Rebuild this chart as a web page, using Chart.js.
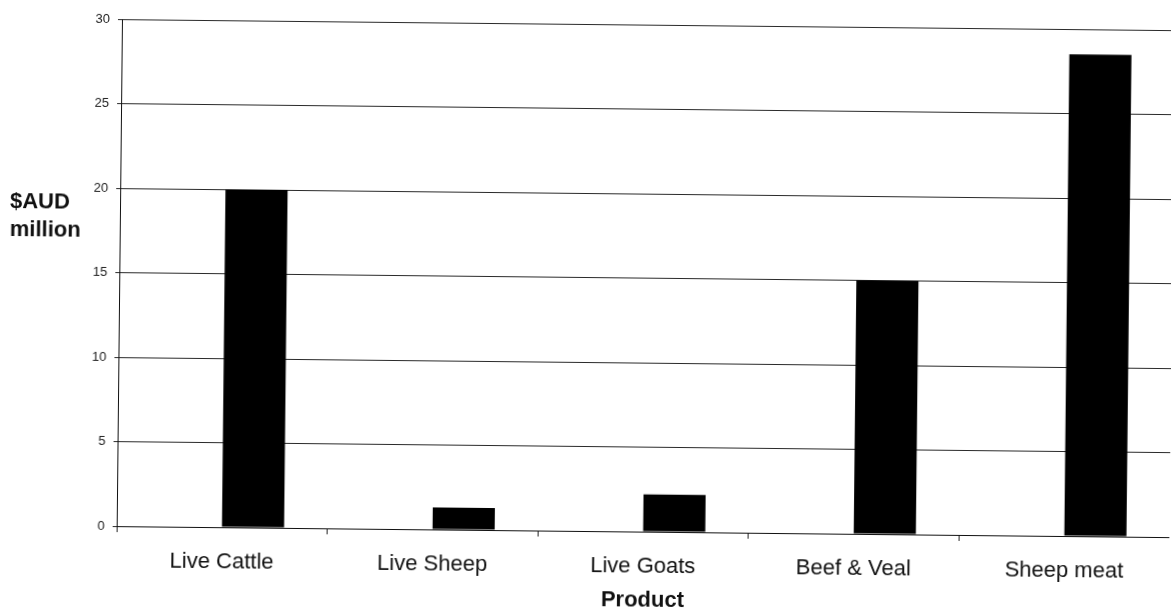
<!DOCTYPE html>
<html>
<head>
<meta charset="utf-8">
<script src="https://cdn.jsdelivr.net/npm/chart.js@4/dist/chart.umd.min.js"></script>
<style>
  html, body { margin: 0; padding: 0; background: #fff; overflow: hidden; }
  #wrap {
    position: relative;
    width: 1172px;
    height: 613px;
    transform: rotate(0.6deg);
    transform-origin: 585px 306px;
  }
</style>
</head>
<body>
<div id="wrap"><canvas id="chart"></canvas></div>
<script>
// Export value by product, $AUD million
const categories = ['Live Cattle', 'Live Sheep', 'Live Goats', 'Beef & Veal', 'Sheep meat'];
const exportValues = [20, 1.3, 2.2, 15, 28.5];
// empty first series slot, so each bar sits in the right half of its category
const emptySeries = [null, null, null, null, null];
const yTicks = [0, 5, 10, 15, 20, 25, 30];
const yTitleLines = ['$AUD', 'million'];
const xTitle = 'Product';

const FONT = '"Liberation Sans", Arial, sans-serif';

// Horizontal, two-line y-axis title drawn at the left edge
const sideTitle = {
  id: 'sideTitle',
  afterDraw(chart) {
    const ctx = chart.ctx;
    ctx.save();
    ctx.font = 'bold 22px ' + FONT;
    ctx.fillStyle = '#111';
    ctx.textAlign = 'left';
    ctx.textBaseline = 'middle';
    ctx.fillText(yTitleLines[0], 9, 208);
    ctx.fillText(yTitleLines[1], 9, 236);
    ctx.restore();
  }
};

new Chart(document.getElementById('chart'), {
  type: 'bar',
  data: {
    labels: categories,
    datasets: [
      { label: 'blank', data: emptySeries, backgroundColor: '#000' },
      { label: 'Value', data: exportValues, backgroundColor: '#000', borderWidth: 0 }
    ]
  },
  options: {
    responsive: true,
    maintainAspectRatio: false,
    animation: false,
    layout: { padding: { top: 24, right: 0, bottom: 0, left: 0 } },
    datasets: { bar: { categoryPercentage: 0.59, barPercentage: 1.0 } },
    plugins: {
      legend: { display: false },
      tooltip: { enabled: false }
    },
    scales: {
      x: {
        offset: true,
        afterFit(scale) { scale.height = 82; },
        grid: {
          display: true,
          drawOnChartArea: false,
          drawTicks: true,
          tickLength: 6,
          offset: true,
          color: '#222',
          lineWidth: 1
        },
        border: { display: true, color: '#111', width: 1 },
        ticks: {
          color: '#111',
          padding: 16,
          font: { family: FONT, size: 22 }
        },
        title: {
          display: true,
          text: xTitle,
          color: '#111',
          padding: { top: 0, bottom: 0 },
          font: { family: FONT, size: 22, weight: 'bold' }
        }
      },
      y: {
        min: 0,
        max: 30,
        afterFit(scale) { scale.width = 119; },
        afterBuildTicks(scale) { scale.ticks = yTicks.map(v => ({ value: v })); },
        grid: {
          color: '#2a2a2a',
          lineWidth: 1,
          drawTicks: true,
          tickLength: 4
        },
        border: { display: true, color: '#111', width: 1 },
        ticks: {
          color: '#222',
          padding: 8,
          font: { family: FONT, size: 13 }
        }
      }
    }
  },
  plugins: [sideTitle]
});
</script>
</body>
</html>
